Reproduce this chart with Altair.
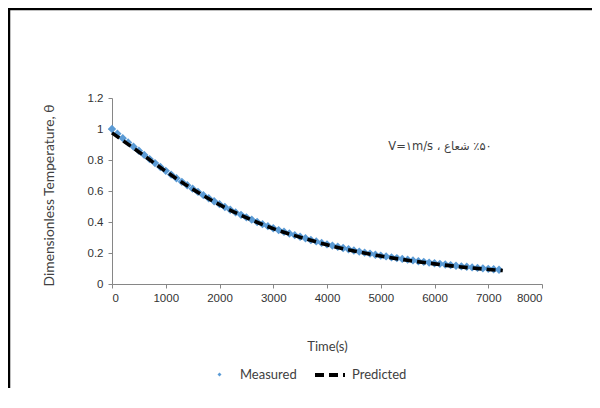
import altair as alt
import pandas as pd

# Measured (every 100 s)
meas_t = list(range(0, 7300, 100))
meas_theta = [
    1.000, 0.970, 0.941, 0.913, 0.886, 0.860, 0.833, 0.806, 0.780, 0.755,
    0.730, 0.706, 0.682, 0.659, 0.637, 0.615, 0.594, 0.573, 0.553, 0.534,
    0.515, 0.497, 0.479, 0.462, 0.446, 0.430, 0.415, 0.400, 0.386, 0.373,
    0.360, 0.348, 0.337, 0.326, 0.315, 0.305, 0.295, 0.284, 0.275, 0.265,
    0.256, 0.248, 0.240, 0.232, 0.224, 0.216, 0.209, 0.202, 0.196, 0.189,
    0.183, 0.178, 0.172, 0.167, 0.162, 0.157, 0.152, 0.147, 0.143, 0.138,
    0.134, 0.130, 0.126, 0.122, 0.118, 0.114, 0.111, 0.107, 0.104, 0.101,
    0.098, 0.095, 0.092,
]

# Predicted
pred_t = [0, 500, 1000, 1500, 2000, 2500, 3000, 3500, 4000, 4500, 5000, 5500, 6000, 6500, 7000, 7270]
pred_theta = [0.975, 0.852, 0.727, 0.612, 0.512, 0.428, 0.357, 0.302, 0.253, 0.213, 0.180, 0.153, 0.130, 0.110, 0.094, 0.087]

x_ticks = [0, 1000, 2000, 3000, 4000, 5000, 6000, 7000, 8000]
y_ticks = [0, 0.2, 0.4, 0.6, 0.8, 1.0, 1.2]

annot_text = "V=\u06f1m/s \u060c \u200f\u06f5\u06f0\u200f\u066a \u0634\u0639\u0627\u0639"
annot_t = [5140]
annot_theta = [0.884]

meas_df = pd.DataFrame({"t": meas_t, "theta": meas_theta, "series": "Measured"})
pred_df = pd.DataFrame({"t": pred_t, "theta": pred_theta, "model": "Predicted"})
ann_df = pd.DataFrame({"t": annot_t, "theta": annot_theta, "label": [annot_text]})

BLUE = "#5B9BD5"
TXT = "#404040"
AXC = "#868686"

x_axis = alt.Axis(values=x_ticks, format="d", title="Time(s)",
                  titleX=215, titleY=62, titleBaseline="middle",
                  titleFont="Lato", titleFontSize=13, titleFontWeight="normal",
                  titleColor=TXT, labelOverlap=False)
y_axis = alt.Axis(values=y_ticks,
                  labelExpr="datum.value == 0 ? '0' : datum.value == 1 ? '1' : format(datum.value, '.1f')",
                  title="Dimensionless Temperature, \u03b8",
                  titleX=-63, titleY=97, titleAngle=-90,
                  titleAlign="center", titleBaseline="middle",
                  titleFont="Lato", titleFontSize=13.8, titleFontWeight="normal",
                  titleColor=TXT, labelOverlap=False, labelSeparation=0, labelBound=False)
x_scale = alt.Scale(domain=[0, 8000], nice=False)
y_scale = alt.Scale(domain=[0, 1.2], nice=False)

def xe():
    return alt.X("t:Q", scale=x_scale, axis=x_axis)

def ye():
    return alt.Y("theta:Q", scale=y_scale, axis=y_axis)

measured = alt.Chart(meas_df).mark_point(filled=True, shape="diamond", size=70, opacity=1).encode(
    x=xe(), y=ye(),
    color=alt.Color("series:N", scale=alt.Scale(domain=["Measured"], range=[BLUE]),
                    legend=alt.Legend(title=None, orient="none", legendX=101, legendY=270,
                                      symbolType="diamond", symbolSize=16, labelOffset=14,
                                      labelFont="Lato", labelFontSize=13, labelColor=TXT)),
)

predicted = alt.Chart(pred_df).mark_line(color="black", strokeWidth=3.6, interpolate="monotone").encode(
    x=xe(), y=ye(),
    strokeDash=alt.StrokeDash("model:N", scale=alt.Scale(domain=["Predicted"], range=[[9, 5]]),
                              legend=alt.Legend(title=None, orient="none", legendX=201, legendY=260,
                                                symbolType="stroke", symbolSize=900,
                                                symbolStrokeWidth=4, symbolStrokeColor="black",
                                                labelOffset=5,
                                                labelFont="Lato", labelFontSize=13, labelColor=TXT)),
)

annot = alt.Chart(ann_df).mark_text(align="left", baseline="middle", font="DejaVu Sans",
                                    fontSize=11.5, color=TXT).encode(
    x=xe(), y=ye(), text="label:N")

frame_top = alt.Chart(ann_df).mark_rule(stroke="black", strokeWidth=2.5, clip=False).encode(
    x=alt.value(-104), x2=alt.value(500), y=alt.value(-89))
frame_left = alt.Chart(ann_df).mark_rule(stroke="black", strokeWidth=2.5, clip=False).encode(
    x=alt.value(-103), y=alt.value(-90), y2=alt.value(400))

chart = alt.layer(frame_top, frame_left, measured, predicted, annot).properties(
    width=430, height=186,
    autosize=alt.AutoSizeParams(type="none"),
    padding={"left": 104, "top": 90, "right": 50, "bottom": 104},
).configure_view(stroke=None).configure_axis(
    domainColor=AXC, tickColor=AXC, tickSize=4, grid=False,
    labelFont="Liberation Sans", labelFontSize=11.5, labelColor="#333333",
    labelOverlap=False,
).configure_axisY(labelPadding=5).configure_axisX(labelPadding=4)

chart.save("out.html", embed_options={"renderer": "svg", "actions": False})
